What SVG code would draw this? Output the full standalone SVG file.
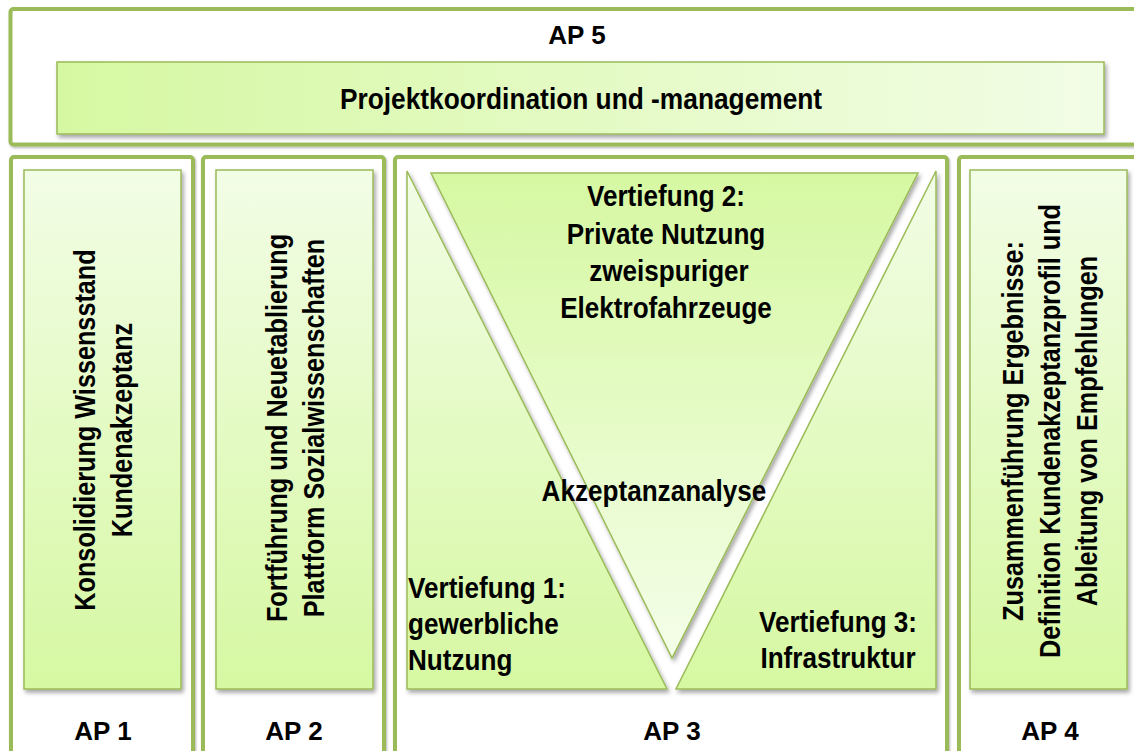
<svg xmlns="http://www.w3.org/2000/svg" width="1134" height="751" viewBox="0 0 1134 751">
<defs>
<linearGradient id="gH" x1="0" y1="0" x2="1" y2="0"><stop offset="0" stop-color="#d6f8a2"/><stop offset="1" stop-color="#f2fde6"/></linearGradient>
<linearGradient id="gV" x1="0" y1="0" x2="0" y2="1"><stop offset="0" stop-color="#f2fde6"/><stop offset="1" stop-color="#d6f8a2"/></linearGradient>
<linearGradient id="gVi" x1="0" y1="0" x2="0" y2="1"><stop offset="0" stop-color="#d6f8a2"/><stop offset="1" stop-color="#f4fee9"/></linearGradient>
<filter id="sh" x="-10%" y="-10%" width="120%" height="120%"><feDropShadow dx="2" dy="3" stdDeviation="2" flood-color="#000" flood-opacity="0.35"/></filter>
<filter id="shf" x="-10%" y="-10%" width="120%" height="120%"><feDropShadow dx="1" dy="1.5" stdDeviation="1.2" flood-color="#000" flood-opacity="0.3"/></filter>
</defs>
<style>
.frame{fill:#fff;stroke:#9bbb59;stroke-width:4;filter:url(#shf)}
.box{stroke:#9bbb59;stroke-width:1.5;filter:url(#sh)}
.t{font-family:"Liberation Sans",Arial,sans-serif;font-weight:bold;fill:#000}
.ap{font-size:26px}
.b{font-size:29px}
</style>
<g id="ap5">
<rect class="frame" x="10.5" y="9" width="1140" height="135.5" rx="3"/>
<text class="t ap" x="577" y="44" text-anchor="middle">AP 5</text>
<rect class="box" x="57" y="62" width="1047" height="72" fill="url(#gH)"/>
<text class="t" font-size="30" transform="translate(581,109) scale(0.877,1)" text-anchor="middle">Projektkoordination und -management</text>
</g>
<g id="ap1">
<rect class="frame" x="11" y="157" width="182" height="620" rx="3"/>
<rect class="box" x="24" y="170" width="157" height="519" fill="url(#gV)"/>
<text class="t b" transform="translate(95,430) rotate(-90) scale(0.87,1)" text-anchor="middle">Konsolidierung Wissensstand</text>
<text class="t b" transform="translate(131.5,430) rotate(-90) scale(0.87,1)" text-anchor="middle">Kundenakzeptanz</text>
<text class="t ap" x="103" y="740" text-anchor="middle">AP 1</text>
</g>
<g id="ap2">
<rect class="frame" x="203" y="157" width="181" height="620" rx="3"/>
<rect class="box" x="216" y="170" width="157" height="519" fill="url(#gV)"/>
<text class="t b" transform="translate(287,428) rotate(-90) scale(0.87,1)" text-anchor="middle">Fortführung und Neuetablierung</text>
<text class="t b" transform="translate(324,428) rotate(-90) scale(0.87,1)" text-anchor="middle">Plattform Sozialwissenschaften</text>
<text class="t ap" x="294" y="740" text-anchor="middle">AP 2</text>
</g>
<g id="ap3">
<rect class="frame" x="395" y="157" width="552" height="620" rx="3"/>
<polygon class="box" points="407,171 407,689 667,689" fill="url(#gV)"/>
<polygon class="box" points="936,171 936,689 676,689" fill="url(#gV)"/>
<polygon class="box" points="431,173 918,173 672,658" fill="url(#gVi)"/>
<g class="t b">
<text transform="translate(666,206) scale(0.9,1)" text-anchor="middle">Vertiefung 2:</text>
<text transform="translate(666,244) scale(0.9,1)" text-anchor="middle">Private Nutzung</text>
<text transform="translate(669,281) scale(0.9,1)" text-anchor="middle">zweispuriger</text>
<text transform="translate(666,318) scale(0.9,1)" text-anchor="middle">Elektrofahrzeuge</text>
<text transform="translate(654,501) scale(0.9,1)" text-anchor="middle">Akzeptanzanalyse</text>
<text transform="translate(408,598) scale(0.9,1)">Vertiefung 1:</text>
<text transform="translate(408,634) scale(0.9,1)">gewerbliche</text>
<text transform="translate(408,670) scale(0.9,1)">Nutzung</text>
<text transform="translate(838,632) scale(0.9,1)" text-anchor="middle">Vertiefung 3:</text>
<text transform="translate(838,668) scale(0.9,1)" text-anchor="middle">Infrastruktur</text>
</g>
<text class="t ap" x="672" y="740" text-anchor="middle">AP 3</text>
</g>
<g id="ap4">
<rect class="frame" x="959" y="157" width="200" height="620" rx="3"/>
<rect class="box" x="970" y="170" width="157" height="519" fill="url(#gV)"/>
<text class="t b" transform="translate(1023,431) rotate(-90) scale(0.87,1)" text-anchor="middle">Zusammenführung Ergebnisse:</text>
<text class="t b" transform="translate(1060,431) rotate(-90) scale(0.87,1)" text-anchor="middle">Definition Kundenakzeptanzprofil und</text>
<text class="t b" transform="translate(1097,431) rotate(-90) scale(0.87,1)" text-anchor="middle">Ableitung von Empfehlungen</text>
<text class="t ap" x="1050" y="740" text-anchor="middle">AP 4</text>
</g>
<g id="connectors"/>
</svg>
